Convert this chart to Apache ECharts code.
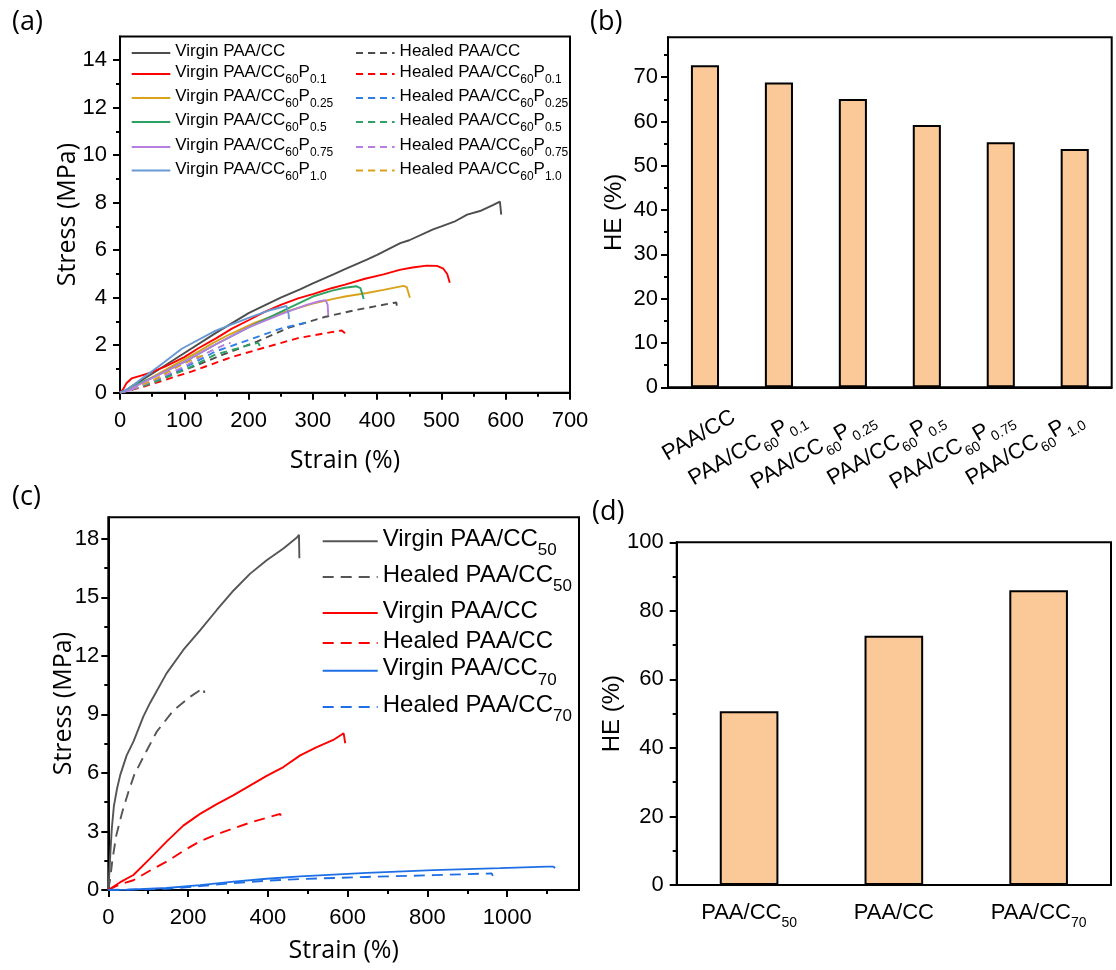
<!DOCTYPE html>
<html><head><meta charset="utf-8">
<script src="https://cdn.jsdelivr.net/npm/echarts/dist/echarts.min.js"></script>
<style>html,body{margin:0;padding:0;background:#fff}#c{width:1116px;height:970px}</style>
</head><body><div id="c"></div>
<script>
// ---------------- DATA ----------------
// Panel (a): strain (%) / stress (MPa)
const aVirginCC   = [[0,0],[10,0.1],[20,0.3],[50,0.8],[96,1.6],[148,2.5],[200,3.35],[250,4.0],[280,4.35],[300,4.6],[332,4.98],[350,5.2],[384,5.6],[400,5.8],[436,6.3],[450,6.42],[487,6.88],[500,7.0],[520,7.2],[540,7.5],[560,7.65],[580,7.9],[591,8.05],[593,7.5]];
const aVirginP01  = [[0,0],[5,0.15],[10,0.4],[18,0.6],[30,0.7],[45,0.82],[70,1.1],[100,1.5],[122,1.87],[150,2.3],[174,2.7],[200,3.05],[225,3.4],[250,3.7],[277,3.97],[300,4.15],[329,4.4],[350,4.55],[381,4.8],[410,4.98],[435,5.17],[455,5.27],[477,5.35],[493,5.34],[503,5.22],[509,5.0],[513,4.63]];
const aVirginP025 = [[0,0],[10,0.1],[20,0.25],[40,0.5],[70,0.95],[100,1.4],[120,1.7],[145,2.1],[170,2.45],[210,2.95],[250,3.35],[300,3.75],[332,3.95],[350,4.05],[384,4.2],[410,4.33],[441,4.5],[446,4.45],[451,4.0]];
const aVirginP05  = [[0,0],[10,0.1],[20,0.3],[50,0.62],[100,1.3],[150,2.05],[200,2.75],[250,3.4],[300,4.05],[330,4.3],[350,4.42],[368,4.48],[374,4.4],[377,4.15],[379,3.95]];
const aVirginP075 = [[0,0],[15,0.1],[30,0.35],[60,0.75],[100,1.3],[150,2.05],[200,2.75],[250,3.3],[290,3.7],[310,3.85],[320,3.9],[323,3.7],[324,3.25]];
const aVirginP10  = [[0,0],[15,0.2],[34,0.6],[60,1.1],[96,1.85],[148,2.6],[200,3.15],[230,3.45],[259,3.65],[262,3.35],[263,3.1]];
const aHealedCC   = [[0,0],[15,0.1],[30,0.25],[62,0.6],[114,1.1],[160,1.6],[213,2.15],[264,2.75],[320,3.2],[370,3.5],[425,3.78],[430,3.8],[431,3.5]];
const aHealedP01  = [[0,0],[30,0.2],[60,0.45],[112,0.9],[174,1.5],[225,1.9],[277,2.3],[329,2.55],[345,2.62],[350,2.5],[352,2.3]];
const aHealedP025 = [[0,0],[20,0.15],[50,0.45],[100,1.05],[148,1.73],[200,2.22],[250,2.7],[280,2.9],[293,2.97]];
const aHealedP05  = [[0,0],[20,0.15],[50,0.4],[100,0.95],[148,1.6],[200,2.0],[215,2.1],[218,1.95]];
const aHealedP075 = [[0,0],[25,0.2],[60,0.6],[100,1.1],[137,1.7],[165,2.05],[172,2.1]];
const aHealedP10  = [[0,0],[20,0.2],[50,0.5],[90,1.1],[120,1.5],[135,1.6]];

// Panel (b): healing efficiency
const bCategories = ['PAA/CC','PAA/CC60P0.1','PAA/CC60P0.25','PAA/CC60P0.5','PAA/CC60P0.75','PAA/CC60P1.0'];
const bLabels = ['{m|PAA/CC}','{m|PAA/CC}{s|60}{m|P}{s|0.1}','{m|PAA/CC}{s|60}{m|P}{s|0.25}','{m|PAA/CC}{s|60}{m|P}{s|0.5}','{m|PAA/CC}{s|60}{m|P}{s|0.75}','{m|PAA/CC}{s|60}{m|P}{s|1.0}'];
const bHE = [72.7, 68.8, 65.1, 59.2, 55.3, 53.8];

// Panel (c)
const cVirgin50 = [[0,0],[3,1.0],[6,2.2],[9,3.2],[14,4.3],[22,5.2],[30,5.9],[46,6.9],[63,7.6],[88,8.9],[105,9.6],[146,11.1],[188,12.3],[230,13.3],[272,14.35],[314,15.35],[355,16.2],[397,16.9],[439,17.5],[472,18.05],[478,18.2],[479,17.0]];
const cHealed50 = [[0,0],[5,0.6],[10,1.5],[20,2.8],[35,4.0],[50,5.0],[65,5.9],[90,6.9],[121,8.1],[163,9.2],[205,9.9],[238,10.35],[241,10.1]];
const cVirginCC = [[0,0],[5,0.1],[30,0.4],[63,0.77],[105,1.62],[146,2.48],[188,3.3],[230,3.9],[272,4.4],[313,4.85],[355,5.35],[397,5.85],[439,6.3],[481,6.9],[520,7.3],[564,7.69],[590,8.03],[594,7.52]];
const cHealedCC = [[0,0],[5,0.1],[30,0.3],[63,0.5],[105,1.0],[146,1.45],[188,2.0],[230,2.5],[272,2.85],[313,3.15],[355,3.45],[397,3.7],[431,3.9],[433,3.75]];
const cVirgin70 = [[0,0],[50,0.02],[146,0.1],[230,0.25],[314,0.43],[397,0.58],[481,0.7],[648,0.88],[815,1.02],[982,1.12],[1100,1.2],[1116,1.2],[1120,1.12]];
const cHealed70 = [[0,0],[146,0.06],[230,0.2],[314,0.36],[400,0.48],[481,0.56],[648,0.67],[815,0.76],[961,0.85],[964,0.72]];

// Panel (d)
const dCategories = ['PAA/CC50','PAA/CC','PAA/CC70'];
const dLabels = ['{m|PAA/CC}{s|50}','{m|PAA/CC}','{m|PAA/CC}{s|70}'];
const dHE = [50.7, 72.7, 86.0];

// Tick values
const aXMajor = [0,100,200,300,400,500,600,700];
const aXMinor = [50,150,250,350,450,550,650];
const aYMajor = [0,2,4,6,8,10,12,14];
const aYMinor = [1,3,5,7,9,11,13];
const bYMajor = [0,10,20,30,40,50,60,70];
const bYMinor = [5,15,25,35,45,55,65,75];
const cXMajor = [0,200,400,600,800,1000];
const cXMinor = [100,300,500,700,900,1100];
const cYMajor = [0,3,6,9,12,15,18];
const cYMinor = [1.5,4.5,7.5,10.5,13.5,16.5];
const dYMajor = [0,20,40,60,80,100];
const dYMinor = [10,30,50,70,90];

// Legend names (panel (c) names carry a "c:" key prefix so they stay distinct from panel (a))
const aVirginNames = ['Virgin PAA/CC','Virgin PAA/CC60P0.1','Virgin PAA/CC60P0.25','Virgin PAA/CC60P0.5','Virgin PAA/CC60P0.75','Virgin PAA/CC60P1.0'];
const aHealedNames = ['Healed PAA/CC','Healed PAA/CC60P0.1','Healed PAA/CC60P0.25','Healed PAA/CC60P0.5','Healed PAA/CC60P0.75','Healed PAA/CC60P1.0'];
const cNames = ['c:Virgin PAA/CC50','c:Healed PAA/CC50','c:Virgin PAA/CC','c:Healed PAA/CC','c:Virgin PAA/CC70','c:Healed PAA/CC70'];

// ---------------- STYLE / LAYOUT ----------------
const FT = '"Liberation Sans", Arial, sans-serif';
const FN = '"Open Sans", sans-serif';
const BLACK = '#000';
const aColorsVirgin = ['#4d4d4d','#ff0000','#d9a21b','#2ea263','#b57ee0','#6699d4'];
const aColorsHealed = ['#4d4d4d','#ff0000','#2f7fe6','#2ea263','#b57ee0','#d9a21b'];
const cColors = ['#555555','#555555','#ff0000','#ff0000','#1e6fe6','#1e6fe6'];
const BAR = '#fbc898';

function parseName(name){
  const clean = name.replace(/^c:/,'');
  return clean.match(/^(.*PAA\/CC)(\d+)?(P)?([\d.]+)?$/);
}
function richLabel(name){
  const m = parseName(name);
  let s = '{m|' + m[1] + '}';
  if (m[2]) s += '{s|' + m[2] + '}';
  if (m[3]) s += '{m|P}';
  if (m[4]) s += '{s|' + m[4] + '}';
  return s;
}

const grids = [
  {left:120, top:36.5, width:450, height:356.2},
  {left:668, top:37.3, width:443.7, height:350},
  {left:108.3, top:517.3, width:470.7, height:372.7},
  {left:676.7, top:542.3, width:434.3, height:342.7},
  {left:700, top:37.3, width:443.7, height:350}
].map((g,i)=>Object.assign({show:i<4, borderColor:BLACK, borderWidth:2, backgroundColor:'transparent', containLabel:false}, g));

const tickStyle = {color:BLACK, width:2};
function mainValueAxis(gridIndex, min, max, majors, margin, name, nameGap, nameFont){
  return {
    type:'value', gridIndex, min, max, interval: majors[1]-majors[0],
    axisLine:{show:true, onZero:false, lineStyle:{color:BLACK, width:2}},
    axisTick:{show:true, customValues:majors, length:7, lineStyle:tickStyle},
    axisLabel:{show:true, customValues:majors, margin, fontSize:22, fontFamily:FT, color:BLACK,
      formatter:(v)=>String(v)},
    splitLine:{show:false},
    name, nameLocation:'middle', nameGap, nameMoveOverlap:false,
    nameTextStyle:{fontFamily:nameFont.family, fontSize:nameFont.size, color:BLACK}
  };
}
function minorAxis(gridIndex, min, max, minors, position){
  return {
    type:'value', gridIndex, min, max, position,
    axisLine:{show:false}, axisLabel:{show:false}, splitLine:{show:false},
    axisTick:{show:true, customValues:minors, length:4, lineStyle:tickStyle}
  };
}

const richTick = {
  m:{fontSize:22, lineHeight:26, verticalAlign:'top', fontFamily:FT, color:BLACK},
  s:{fontSize:14, lineHeight:14, padding:[14,0,0,0], verticalAlign:'top', fontFamily:FT, color:BLACK}
};

const xAxes = [
  mainValueAxis(0, 0, 700, aXMajor, 17, 'Strain (%)', 56, {family:FN, size:25}),
  minorAxis(0, 0, 700, aXMinor, 'bottom'),
  {type:'category', gridIndex:1, data:bCategories,
   axisLine:{lineStyle:{color:BLACK, width:2}},
   axisTick:{alignWithLabel:true, length:7, lineStyle:tickStyle},
   axisLabel:{show:false}},
  {type:'category', gridIndex:4, data:bCategories,
   axisLine:{show:false}, axisTick:{show:false},
   axisLabel:{interval:0, rotate:30, margin:30, formatter:(v,i)=>bLabels[i], rich:richTick}},
  mainValueAxis(2, 0, 1180, cXMajor, 17, 'Strain (%)', 48, {family:FN, size:25}),
  minorAxis(2, 0, 1180, cXMinor, 'bottom'),
  {type:'category', gridIndex:3, data:dCategories,
   axisLine:{lineStyle:{color:BLACK, width:2}},
   axisTick:{alignWithLabel:true, length:7, lineStyle:tickStyle},
   axisLabel:{interval:0, margin:17, formatter:(v,i)=>dLabels[i], rich:richTick}}
];
const yAxes = [
  mainValueAxis(0, 0, 15, aYMajor, 13, 'Stress (MPa)', 40, {family:FN, size:25}),
  minorAxis(0, 0, 15, aYMinor, 'left'),
  mainValueAxis(1, 0, 79, bYMajor, 10, 'HE (%)', 42, {family:FT, size:24}),
  minorAxis(1, 0, 79, bYMinor, 'left'),
  {type:'value', gridIndex:4, show:false, min:0, max:79},
  mainValueAxis(2, 0, 19.1, cYMajor, 9, 'Stress (MPa)', 32, {family:FN, size:25}),
  minorAxis(2, 0, 19.1, cYMinor, 'left'),
  mainValueAxis(3, 0, 100, dYMajor, 13, 'HE (%)', 52, {family:FT, size:24}),
  minorAxis(3, 0, 100, dYMinor, 'left')
];

function lineSeries(name, data, color, dashed, xi, yi, dash){
  return {type:'line', name, data, xAxisIndex:xi, yAxisIndex:yi,
    symbol:'none', showSymbol:false, smooth:false, animation:false,
    lineStyle:{color, width:1.9, type: dashed ? dash : 'solid'},
    itemStyle:{color}};
}

const aVirginData = [aVirginCC, aVirginP01, aVirginP025, aVirginP05, aVirginP075, aVirginP10];
const aHealedData = [aHealedCC, aHealedP01, aHealedP025, aHealedP05, aHealedP075, aHealedP10];
const cData = [cVirgin50, cHealed50, cVirginCC, cHealedCC, cVirgin70, cHealed70];

const series = [];
aHealedData.forEach((d,i)=>series.push(lineSeries(aHealedNames[i], d, aColorsHealed[i], true, 0, 0, [7,5])));
aVirginData.forEach((d,i)=>series.push(lineSeries(aVirginNames[i], d, aColorsVirgin[i], false, 0, 0)));
cData.forEach((d,i)=>series.push(lineSeries(cNames[i], d, cColors[i], i%2===1, 4, 5, [11,7])));
series.push({type:'bar', name:'HE b', data:bHE, xAxisIndex:2, yAxisIndex:2, barWidth:'38%', animation:false,
  itemStyle:{color:BAR, borderColor:BLACK, borderWidth:2}});
series.push({type:'bar', name:'HE d', data:dHE, xAxisIndex:6, yAxisIndex:7, barWidth:'40.5%', animation:false,
  itemStyle:{color:BAR, borderColor:BLACK, borderWidth:2}});

// legends: one per entry for exact placement
const richA = {
  m:{fontSize:17, lineHeight:20, verticalAlign:'top', fontFamily:FT, color:BLACK},
  s:{fontSize:12, lineHeight:12, padding:[10,0,0,0], verticalAlign:'top', fontFamily:FT, color:BLACK}
};
const richC = {
  m:{fontSize:24, lineHeight:28, verticalAlign:'top', fontFamily:FT, color:BLACK},
  s:{fontSize:17, lineHeight:17, padding:[15,0,0,0], verticalAlign:'top', fontFamily:FT, color:BLACK}
};
const aRowY = [53, 75, 99, 123, 148, 171.5];
const cRowY = [543.3, 579, 613, 643, 672.7, 709];
function legendEntry(name, left, cy, itemWidth, rich, hPlain, hSub){
  const p = parseName(name);
  const h = (p[2] || p[4]) ? hSub : hPlain;
  return {show:true, left, top: cy - h/2, padding:0, itemGap:0, itemWidth, itemHeight:1,
    selectedMode:false, data:[name], formatter:(n)=>richLabel(n),
    textStyle:{color:BLACK, fontFamily:FT, rich}};
}
const legends = [];
aVirginNames.forEach((n,i)=>legends.push(legendEntry(n, 130.7, aRowY[i], 38.6, richA, 20, 22)));
aHealedNames.forEach((n,i)=>legends.push(legendEntry(n, 355, aRowY[i], 38.6, richA, 20, 22)));
cNames.forEach((n,i)=>legends.push(legendEntry(n, 321.7, cRowY[i], 55, richC, 28, 32)));

const panelLabels = [['(a)',12,9],['(b)',590,9],['(c)',12,484],['(d)',592,499]];

const chart = echarts.init(document.getElementById('c'), null, {renderer:'canvas', width:1116, height:970});
chart.setOption({
  animation:false,
  backgroundColor:'#fff',
  grid: grids,
  xAxis: xAxes,
  yAxis: yAxes,
  legend: legends,
  series,
  graphic: panelLabels.map(p=>({type:'text', left:p[1], top:p[2],
    style:{text:p[0], font:'27px "Open Sans"', fill:BLACK}}))
});
</script></body></html>
